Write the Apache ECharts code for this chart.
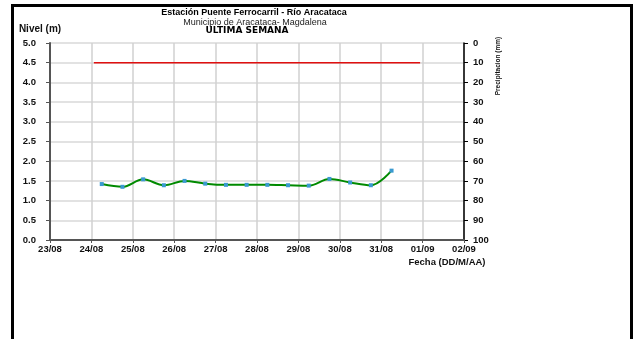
<!DOCTYPE html>
<html>
<head>
<meta charset="utf-8">
<script src="https://cdn.jsdelivr.net/npm/echarts@6/dist/echarts.min.js"></script>
<style>
    body { margin: 0; background: #fff; }
    #chart { width: 638px; height: 339px; }
</style>
</head>
<body>
<div id="chart"></div>
<script>
    // etiquetas del eje de fechas (un tick por dia, desde 23/08)
    const fechas = ['23/08', '24/08', '25/08', '26/08', '27/08', '28/08', '29/08', '30/08', '31/08', '01/09', '02/09']
    // hora de cada lectura, en dias contados desde 23/08 00:00
    const horas = [1.25, 1.75, 2.25, 2.75, 3.25, 3.75, 4.25, 4.75, 5.25, 5.75, 6.25, 6.75, 7.25, 7.75, 8.25]
    const nivel = [1.42, 1.35, 1.54, 1.39, 1.50, 1.43, 1.40, 1.40, 1.40, 1.39, 1.38, 1.55, 1.46, 1.39, 1.76]
    // nivel de alerta (linea roja)
    const alertaHoras = [1.06, 8.94]
    const alertaNivel = [4.5, 4.5]
    const nivelTicks = [0, 0.5, 1, 1.5, 2, 2.5, 3, 3.5, 4, 4.5, 5]
    const precipTicks = [0, 10, 20, 30, 40, 50, 60, 70, 80, 90, 100]

    const font = 'Liberation Sans'
    let chart = echarts.init(document.getElementById('chart'))
    let options = {
        animation: false,
        textStyle: { fontFamily: font },
        title: [
            { text: 'Estación Puente Ferrocarril - Río Aracataca', left: 254, top: 8, padding: 0, textAlign: 'center',
              textStyle: { fontSize: 9, fontWeight: 'bold', color: '#000' } },
            { text: 'Municipio de Aracataca- Magdalena', left: 255, top: 18.5, padding: 0, textAlign: 'center',
              textStyle: { fontSize: 9, fontWeight: 'normal', color: '#222' } },
            { text: 'ULTIMA SEMANA', left: 247, top: 26.5, padding: 0, textAlign: 'center',
              textStyle: { fontSize: 9, fontWeight: 'bold', color: '#000', fontFamily: 'DejaVu Sans' } },
        ],
        grid: { left: 50, right: 174, top: 43, bottom: 99 },
        xAxis: {
            type: 'value',
            min: 0,
            max: fechas.length - 1,
            interval: 1,
            axisLine: { lineStyle: { color: '#555', width: 2 } },
            axisTick: { length: 3, lineStyle: { color: '#555' } },
            axisLabel: {
                fontSize: 9.5, fontWeight: 'bold', color: '#111', margin: 4,
                formatter: (v) => fechas[Math.round(v)]
            },
            splitLine: { show: true, lineStyle: { color: '#d0d0d0', width: 1.5 } }
        },
        yAxis: [
            {
                type: 'value',
                min: nivelTicks[0],
                max: nivelTicks[nivelTicks.length - 1],
                interval: 0.5,
                axisLine: { show: true, lineStyle: { color: '#555', width: 2 } },
                axisTick: { show: true, length: 4, lineStyle: { color: '#555' } },
                axisLabel: {
                    fontSize: 9.5, fontWeight: 'bold', color: '#111', margin: 14,
                    formatter: (v) => v.toFixed(1)
                },
                splitLine: { show: true, lineStyle: { color: '#d8d8d8', width: 1.5 } }
            },
            {
                type: 'value',
                position: 'right',
                inverse: true,
                min: precipTicks[0],
                max: precipTicks[precipTicks.length - 1],
                interval: 10,
                axisLine: { show: true, lineStyle: { color: '#000', width: 1.5 } },
                axisTick: { show: true, length: 4, lineStyle: { color: '#000' } },
                axisLabel: { fontSize: 9.5, fontWeight: 'bold', color: '#111', margin: 9 },
                splitLine: { show: false }
            }
        ],
        series: [
            {
                name: 'Alerta',
                type: 'line',
                data: alertaHoras.map((h, i) => [h, alertaNivel[i]]),
                symbol: 'none',
                lineStyle: { color: '#e01010', width: 1.5 }
            },
            {
                name: 'Nivel',
                type: 'line',
                data: horas.map((h, i) => [h, nivel[i]]),
                smooth: 0.35,
                symbol: 'rect',
                symbolSize: 4,
                itemStyle: { color: '#3a9ad0' },
                lineStyle: { color: '#008a00', width: 2 },
                z: 3
            }
        ],
        graphic: [
            // marco negro
            { type: 'polyline', shape: { points: [[12.5, 339], [12.5, 5.5], [631.5, 5.5], [631.5, 339]] },
              style: { stroke: '#000', lineWidth: 3, fill: null }, silent: true },
            { type: 'text', x: 40, y: 29,
              style: { text: 'Nivel (m)', font: 'bold 10px ' + font, fill: '#111',
                       align: 'center', verticalAlign: 'middle' } },
            { type: 'text', x: 447, y: 262,
              style: { text: 'Fecha (DD/M/AA)', font: 'bold 9.5px ' + font, fill: '#111',
                       align: 'center', verticalAlign: 'middle' } },
            { type: 'text', x: 498, y: 66, rotation: Math.PI / 2,
              style: { text: 'Precipitacion (mm)', font: 'bold 6.5px ' + font, fill: '#111',
                       align: 'center', verticalAlign: 'middle' } }
        ]
    }
    chart.setOption(options)
</script>
</body>
</html>
